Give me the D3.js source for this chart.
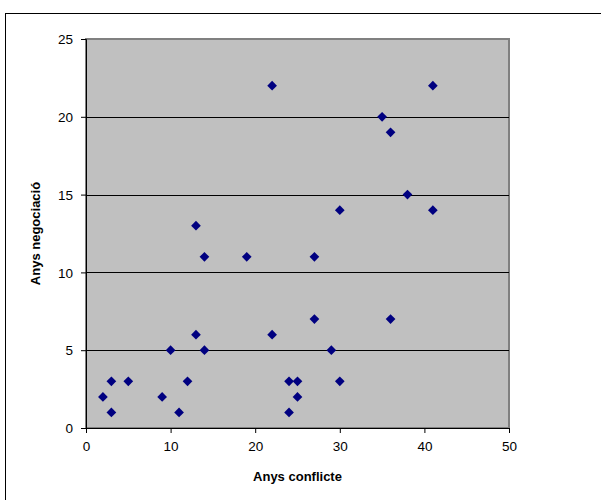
<!DOCTYPE html>
<html><head><meta charset="utf-8">
<script src="https://cdn.jsdelivr.net/npm/d3@7"></script>
<style>body{margin:0;background:#fff}svg{display:block}text{font-family:"Liberation Sans",Arial,sans-serif}</style>
</head><body><div id="c"></div>
<script>
const conflictYears = [2,3,3,5,9,10,11,12,13,13,14,14,19,22,22,24,24,25,25,27,27,29,30,30,35,36,36,38,41,41];
const negotiationYears = [2,3,1,3,2,5,1,3,6,13,5,11,11,6,22,3,1,3,2,11,7,5,3,14,20,19,7,15,22,14];
const xTicks = [0,10,20,30,40,50];
const yTicks = [0,5,10,15,20,25];
const xTitle = "Anys conflicte";
const yTitle = "Anys negociació";

const W=601,H=500;
const svg=d3.select("#c").append("svg").attr("width",W).attr("height",H);
// outer frame
svg.append("rect").attr("x",5.5).attr("y",13.5).attr("width",620).attr("height",520).attr("fill","#fff").attr("stroke","#000").attr("stroke-width",1);

const L=86,R=509,T=39,B=428;
const x=d3.scaleLinear().domain([0,50]).range([L,R]);
const y=d3.scaleLinear().domain([0,25]).range([B,T]);

svg.append("rect").attr("x",L).attr("y",T).attr("width",R-L).attr("height",B-T).attr("fill","#C0C0C0").attr("stroke","#808080").attr("stroke-width",2);

// gridlines
svg.append("g").selectAll("line").data(yTicks.filter(d=>d>0&&d<25)).join("line")
  .attr("x1",L).attr("x2",R).attr("y1",d=>Math.round(y(d))+0.5).attr("y2",d=>Math.round(y(d))+0.5)
  .attr("stroke","#000").attr("stroke-width",1);

const xa=svg.append("g").attr("transform",`translate(0,${B})`)
  .call(d3.axisBottom(x).tickValues(xTicks).tickSize(5).tickPadding(8).tickFormat(d3.format("d")));
const ya=svg.append("g").attr("transform",`translate(${L},0)`)
  .call(d3.axisLeft(y).tickValues(yTicks).tickSize(5).tickPadding(8).tickFormat(d3.format("d")));
[xa,ya].forEach(a=>{a.selectAll("text").attr("font-size",13.5).attr("fill","#000").attr("font-family","Liberation Sans, Arial, sans-serif");
  a.select(".domain").attr("stroke","#000");a.selectAll(".tick line").attr("stroke","#000");});
ya.selectAll("text").attr("dy","0.35em");

const diamond=d3.symbol().type(d3.symbolDiamond2).size(60);
svg.append("g").selectAll("path").data(conflictYears.map((c,i)=>[c,negotiationYears[i]])).join("path")
  .attr("d",diamond).attr("transform",d=>`translate(${x(d[0])},${y(d[1])})`).attr("fill","#000080");

svg.append("text").attr("x",(L+R)/2).attr("y",481).attr("text-anchor","middle").attr("font-size",13).attr("font-weight","bold").text(xTitle);
svg.append("text").attr("transform",`translate(40,${(T+B)/2}) rotate(-90)`).attr("text-anchor","middle").attr("font-size",13).attr("font-weight","bold").text(yTitle);
</script></body></html>
